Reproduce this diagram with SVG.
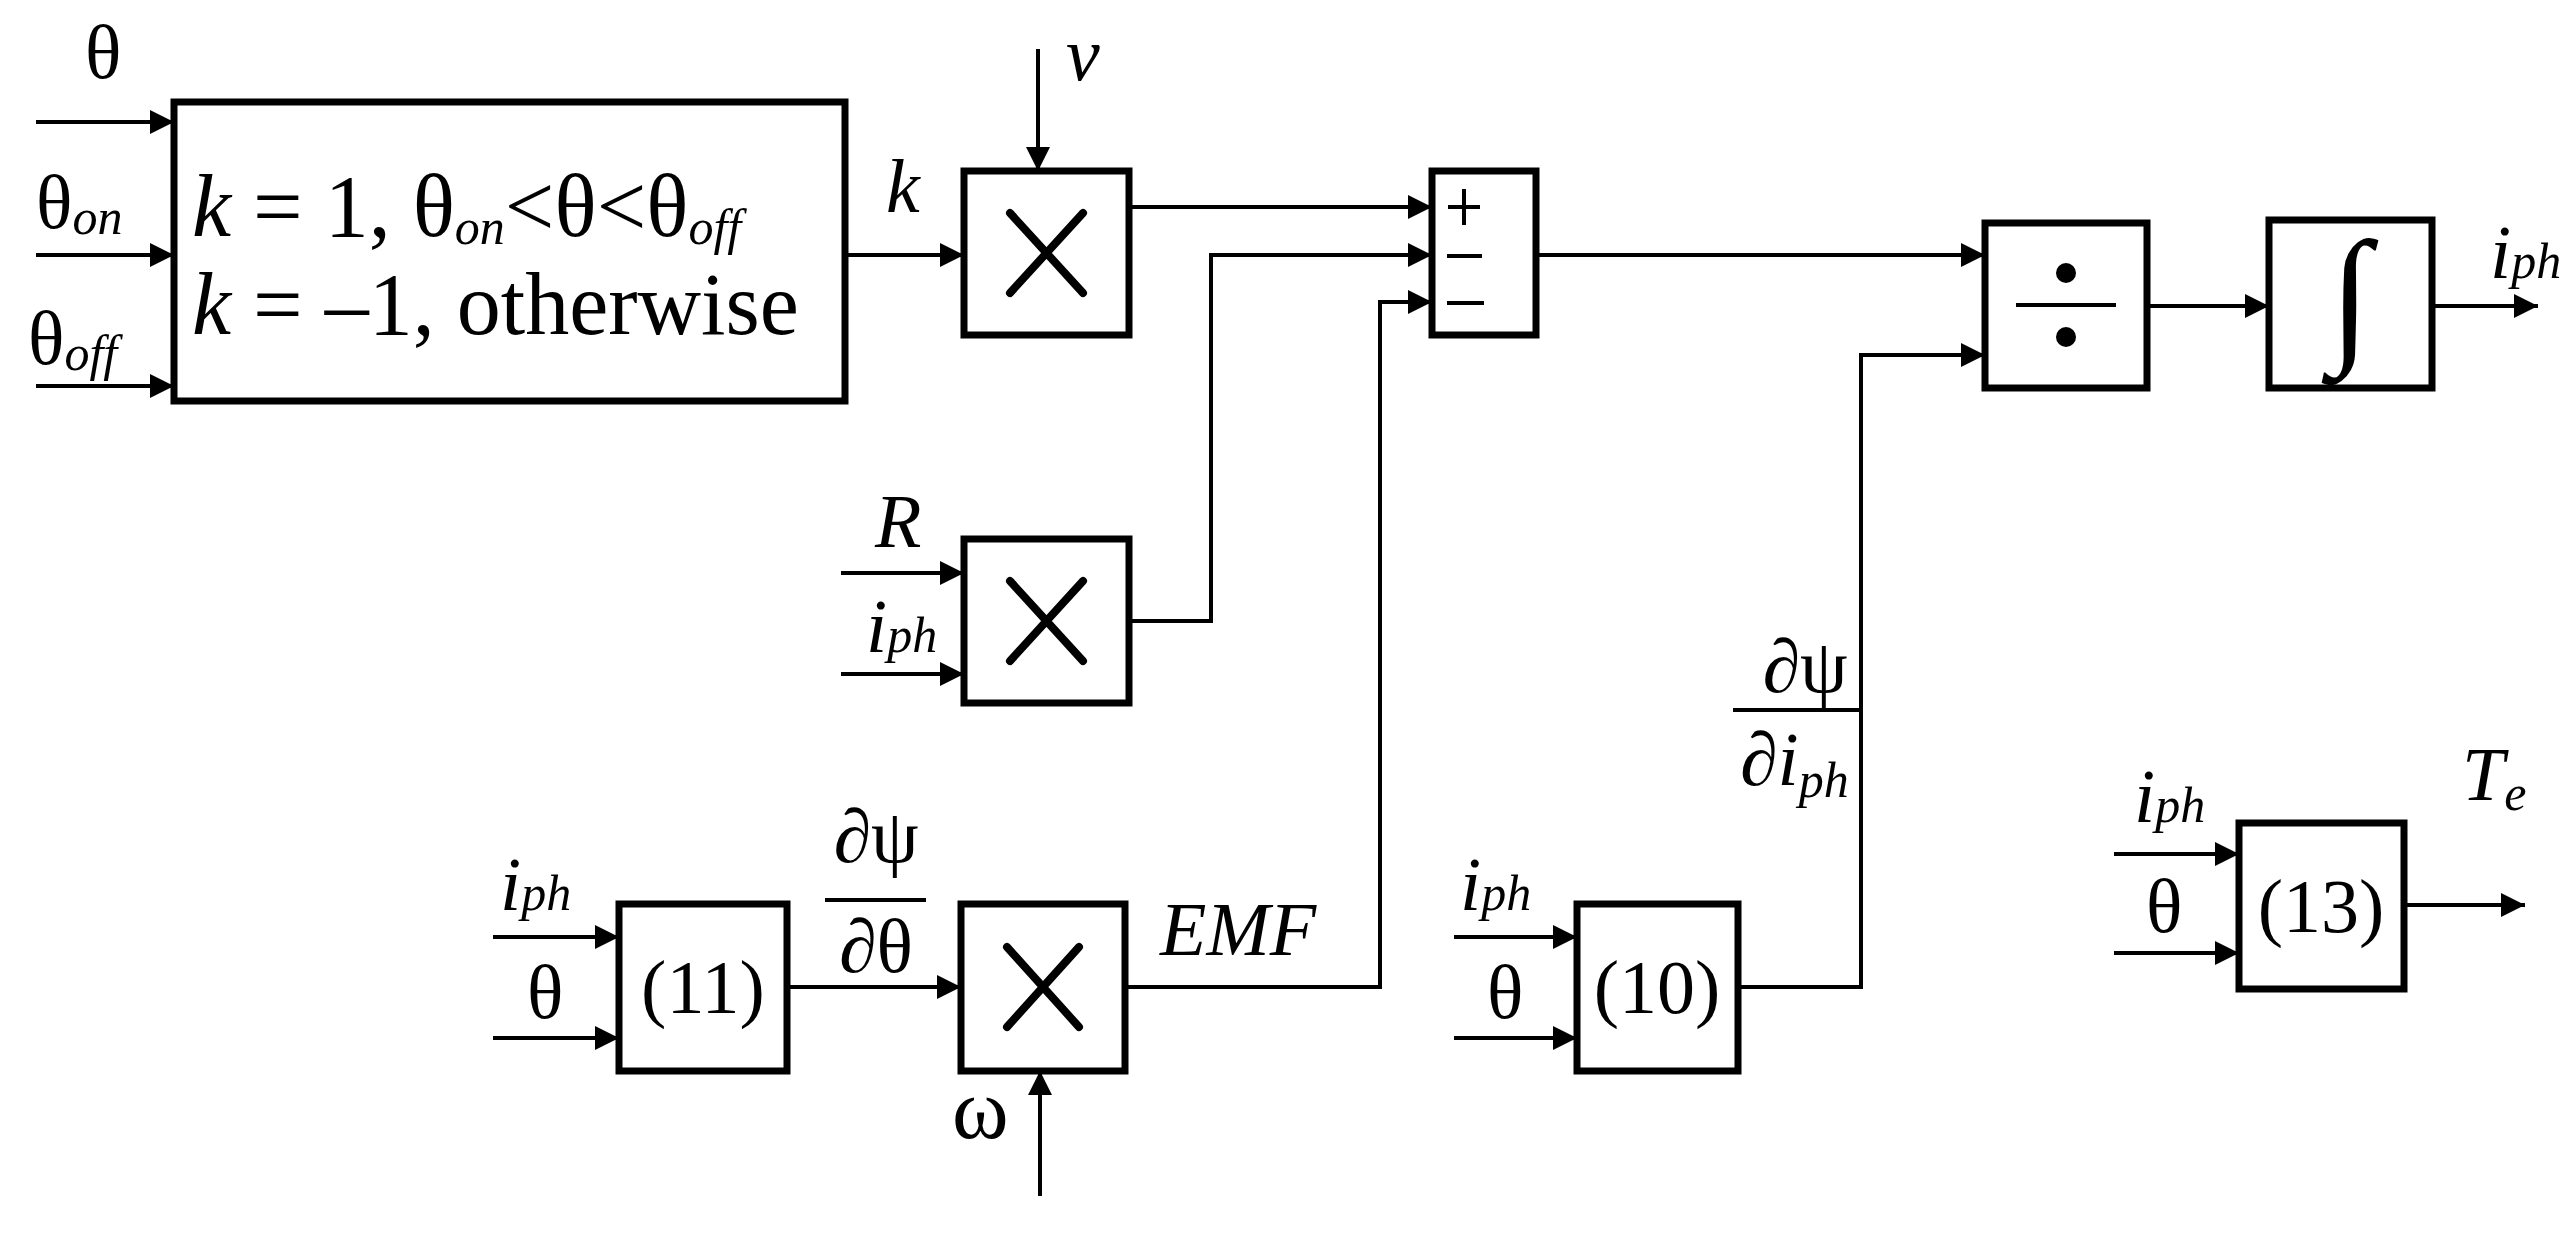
<svg xmlns="http://www.w3.org/2000/svg" width="2576" height="1236" viewBox="0 0 2576 1236">
<style>
.b{fill:#fff;stroke:#000;stroke-width:7}
.w{fill:none;stroke:#000;stroke-width:4}
.x{fill:none;stroke:#000;stroke-width:8;stroke-linecap:round}
.a{fill:none;stroke:#000;stroke-width:4;marker-end:url(#ar)}
.t{font-family:"Liberation Serif",serif;font-size:76px;fill:#000}
.i{font-style:italic}
.s{font-size:50px;font-style:italic}
.m{font-family:"Liberation Serif",serif;font-size:88px;fill:#000}
</style>
<defs>
<marker id="ar" viewBox="0 0 10 10" refX="10" refY="5" markerWidth="28" markerHeight="24" markerUnits="userSpaceOnUse" orient="auto"><path d="M0,0 L10,5 L0,10 Z" fill="#000"/></marker>
</defs>
<rect width="2576" height="1236" fill="#fff"/>
<g id="connectors">
<line class="a" x1="36" y1="122" x2="174" y2="122"/>
<line class="a" x1="36" y1="255" x2="174" y2="255"/>
<line class="a" x1="36" y1="386" x2="174" y2="386"/>
<line class="a" x1="845" y1="255" x2="964" y2="255"/>
<line class="a" x1="1038" y1="49" x2="1038" y2="171"/>
<line class="a" x1="1129" y1="207" x2="1432" y2="207"/>
<line class="a" x1="841" y1="573" x2="964" y2="573"/>
<line class="a" x1="841" y1="674" x2="964" y2="674"/>
<polyline class="a" points="1129,621 1211,621 1211,255 1432,255"/>
<line class="a" x1="493" y1="937" x2="619" y2="937"/>
<line class="a" x1="493" y1="1038" x2="619" y2="1038"/>
<line class="a" x1="787" y1="987" x2="961" y2="987"/>
<line class="a" x1="1040" y1="1196" x2="1040" y2="1071"/>
<polyline class="a" points="1125,987 1380,987 1380,302 1432,302"/>
<line class="a" x1="1454" y1="937" x2="1577" y2="937"/>
<line class="a" x1="1454" y1="1038" x2="1577" y2="1038"/>
<polyline class="a" points="1738,987 1861,987 1861,355 1985,355"/>
<line class="a" x1="1536" y1="255" x2="1985" y2="255"/>
<line class="a" x1="2147" y1="306" x2="2269" y2="306"/>
<line class="a" x1="2432" y1="306" x2="2538" y2="306"/>
<line class="a" x1="2114" y1="854" x2="2239" y2="854"/>
<line class="a" x1="2114" y1="953" x2="2239" y2="953"/>
<line class="a" x1="2404" y1="905" x2="2525" y2="905"/>
</g>
<g id="switch">
<rect class="b" x="174" y="102" width="671" height="299"/>
<text class="m" x="192" y="236"><tspan class="i">k</tspan> = 1, θ<tspan class="s" dy="8">on</tspan><tspan dy="-8">&lt;θ&lt;θ</tspan><tspan class="s" dy="8">off</tspan></text>
<text class="m" x="192" y="334"><tspan class="i">k</tspan> = –1, otherwise</text>
</g>
<g id="mult1"><rect class="b" x="964" y="171" width="165" height="164"/><path class="x" d="M1010,213 L1083,293 M1083,213 L1010,293"/></g>
<g id="mult2"><rect class="b" x="964" y="539" width="165" height="164"/><path class="x" d="M1010,581 L1083,661 M1083,581 L1010,661"/></g>
<g id="mult3"><rect class="b" x="961" y="904" width="164" height="167"/><path class="x" d="M1007,947 L1079,1027 M1079,947 L1007,1027"/></g>
<g id="sum"><rect class="b" x="1432" y="171" width="104" height="164"/>
<path class="w" d="M1448,207 L1480,207 M1464,189 L1464,225 M1447,256 L1482,256 M1447,303 L1484,303" stroke-width="5"/></g>
<g id="div"><rect class="b" x="1985" y="223" width="162" height="165"/>
<line class="w" x1="2016" y1="305" x2="2116" y2="305" stroke-width="5"/><circle cx="2066" cy="273" r="10"/><circle cx="2066" cy="337" r="10"/></g>
<g id="integ"><rect class="b" x="2269" y="220" width="163" height="168"/>
<text class="t" x="2350" y="345" text-anchor="middle" style="font-size:150px">∫</text></g>
<g id="b11"><rect class="b" x="619" y="904" width="168" height="167"/><text class="t" x="703" y="1013" text-anchor="middle">(11)</text></g>
<g id="b10"><rect class="b" x="1577" y="904" width="161" height="167"/><text class="t" x="1657" y="1013" text-anchor="middle">(10)</text></g>
<g id="b13"><rect class="b" x="2239" y="823" width="165" height="166"/><text class="t" x="2321" y="932" text-anchor="middle">(13)</text></g>
<g id="labels">
<text class="t" x="85" y="78">θ</text>
<text class="t" x="36" y="228">θ<tspan class="s" dy="6">on</tspan></text>
<text class="t" x="28" y="364">θ<tspan class="s" dy="6">off</tspan></text>
<text class="t i" x="886" y="212">k</text>
<text class="t i" x="1066" y="80">v</text>
<text class="t i" x="875" y="547">R</text>
<text class="t i" x="866" y="652">i<tspan class="s">ph</tspan></text>
<text class="t i" x="500" y="910">i<tspan class="s">ph</tspan></text>
<text class="t" x="527" y="1018">θ</text>
<text class="t" x="876" y="862" text-anchor="middle">∂ψ</text>
<line class="w" x1="825" y1="900" x2="926" y2="900"/>
<text class="t" x="876" y="972" text-anchor="middle">∂θ</text>
<text class="t i" x="1160" y="955">EMF</text>
<text class="t" x="952" y="1138" style="font-size:86px">ω</text>
<text class="t i" x="1460" y="910">i<tspan class="s">ph</tspan></text>
<text class="t" x="1487" y="1018">θ</text>
<text class="t" x="1805" y="692" text-anchor="middle">∂ψ</text>
<line class="w" x1="1733" y1="710" x2="1861" y2="710"/>
<text class="t" x="1740" y="785">∂<tspan class="i">i</tspan><tspan class="s" dy="12">ph</tspan></text>
<text class="t i" x="2490" y="278">i<tspan class="s">ph</tspan></text>
<text class="t i" x="2134" y="822">i<tspan class="s">ph</tspan></text>
<text class="t" x="2146" y="932">θ</text>
<text class="t i" x="2462" y="800">T<tspan class="s" dy="10">e</tspan></text>
</g>
</svg>
